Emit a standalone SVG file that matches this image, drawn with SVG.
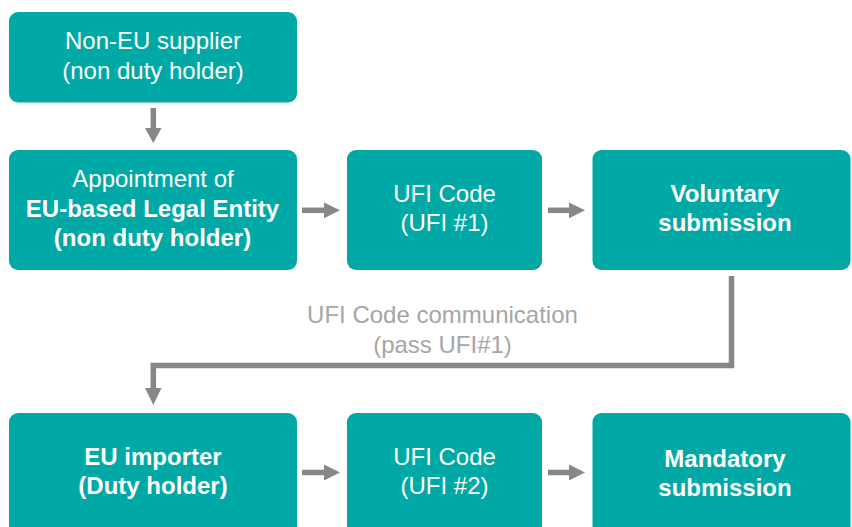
<svg xmlns="http://www.w3.org/2000/svg" width="852" height="527" viewBox="0 0 852 527">
  <defs>
    <style>
      .box { fill: #00A9A5; }
      .t { font-family: "Liberation Sans", Arial, sans-serif; font-size: 24px; fill: #FFFFFF; text-anchor: middle; }
      .b { font-weight: bold; }
      .lbl { font-family: "Liberation Sans", Arial, sans-serif; font-size: 24px; fill: #A6A6A6; text-anchor: middle; }
      .line { fill: none; stroke: #878787; stroke-width: 5.5; }
      .head { fill: #878787; }
    </style>
  </defs>
  <rect width="852" height="527" fill="#FFFFFF"/>

  <g id="connectors">
    <line class="line" x1="153.3" y1="108" x2="153.3" y2="129"/>
    <polygon class="head" points="145,128 161.5,128 153.3,143"/>
    <line class="line" x1="302" y1="210.3" x2="325" y2="210.3"/>
    <polygon class="head" points="324,202.5 324,218.3 340,210.3"/>
    <line class="line" x1="548" y1="210.3" x2="570" y2="210.3"/>
    <polygon class="head" points="569,202.5 569,218.3 585,210.3"/>
    <polyline class="line" points="731.5,276 731.5,365.6 153.3,365.6 153.3,389"/>
    <polygon class="head" points="145,388 161.5,388 153.3,405"/>
    <line class="line" x1="302" y1="472.5" x2="325" y2="472.5"/>
    <polygon class="head" points="324,464.5 324,480.5 340,472.5"/>
    <line class="line" x1="548" y1="472.5" x2="570" y2="472.5"/>
    <polygon class="head" points="569,464.5 569,480.5 585,472.5"/>
    <text class="lbl" x="442.5" y="323">UFI Code communication</text>
    <text class="lbl" x="442.5" y="353">(pass UFI#1)</text>
  </g>

  <g id="non-eu-supplier">
    <rect class="box" x="9" y="12" width="288" height="90.5" rx="9"/>
    <text class="t" x="153" y="49">Non-EU supplier</text>
    <text class="t" x="153" y="79">(non duty holder)</text>
  </g>
  <g id="appointment">
    <rect class="box" x="9" y="150" width="288" height="120" rx="9"/>
    <text class="t" x="153" y="187">Appointment of</text>
    <text class="t b" x="152.5" y="217">EU-based Legal Entity</text>
    <text class="t b" x="152.5" y="246">(non duty holder)</text>
  </g>
  <g id="ufi-code-1">
    <rect class="box" x="347" y="150" width="195" height="120" rx="9"/>
    <text class="t" x="444.5" y="202">UFI Code</text>
    <text class="t" x="444.5" y="231">(UFI #1)</text>
  </g>
  <g id="voluntary-submission">
    <rect class="box" x="592.5" y="150" width="258" height="120" rx="9"/>
    <text class="t b" x="725" y="202">Voluntary</text>
    <text class="t b" x="725" y="231">submission</text>
  </g>
  <g id="eu-importer">
    <rect class="box" x="9" y="413" width="288" height="130" rx="9"/>
    <text class="t b" x="153" y="465">EU importer</text>
    <text class="t b" x="153" y="494">(Duty holder)</text>
  </g>
  <g id="ufi-code-2">
    <rect class="box" x="347" y="413" width="195" height="130" rx="9"/>
    <text class="t" x="444.5" y="465">UFI Code</text>
    <text class="t" x="444.5" y="494">(UFI #2)</text>
  </g>
  <g id="mandatory-submission">
    <rect class="box" x="592.5" y="413" width="258" height="130" rx="9"/>
    <text class="t b" x="725" y="467">Mandatory</text>
    <text class="t b" x="725" y="496">submission</text>
  </g>
</svg>
